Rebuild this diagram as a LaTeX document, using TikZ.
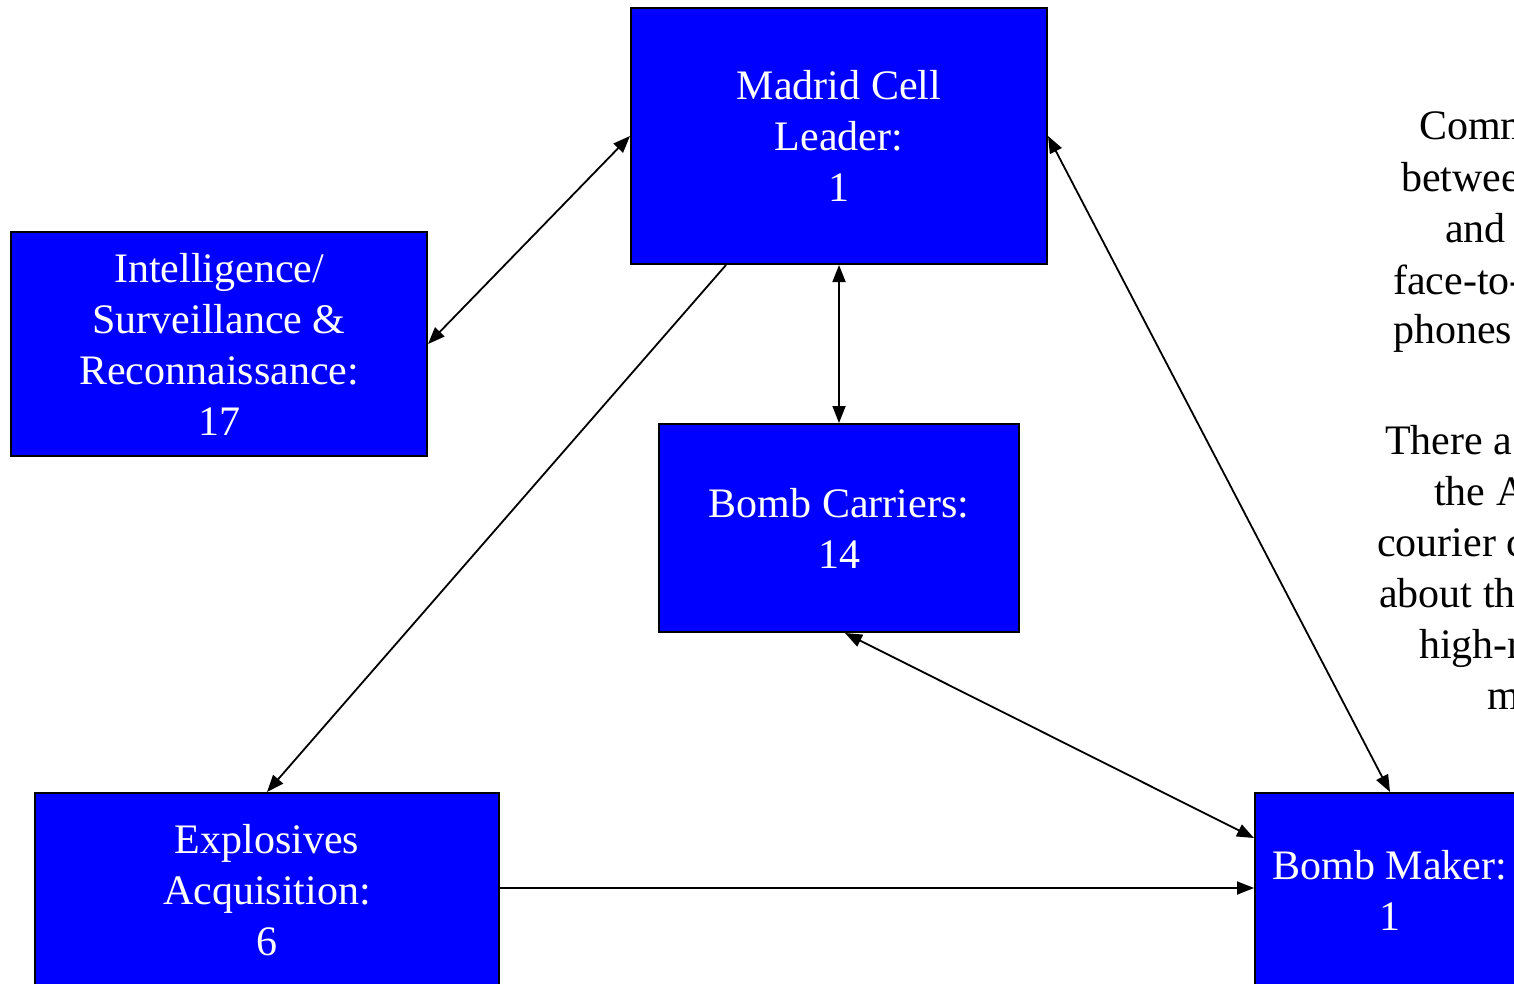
\documentclass[tikz,border=0pt]{standalone}
\usepackage{fontspec}
\setmainfont{Liberation Serif}
\usetikzlibrary{arrows.meta}

\tikzset{
  cellbox/.style={draw=black, line width=2pt, fill={rgb,255:red,0;green,0;blue,255},
    text=white, align=center, inner sep=0pt, font=\fontsize{42}{51}\selectfont},
  link/.style={line width=1.8pt, {Triangle[length=17pt,width=13pt]}-{Triangle[length=17pt,width=13pt]}},
  onelink/.style={line width=1.8pt, -{Triangle[length=17pt,width=13pt]}},
  notetext/.style={anchor=base west, inner sep=0pt, font=\fontsize{42}{51}\selectfont}
}

\begin{document}
\begin{tikzpicture}[x=1pt, y=-1pt]
			%%%%% FRAME %%%%%
			\useasboundingbox (0,0) rectangle (1514,983);
			
			%%%%% BOXES %%%%%
			\node[cellbox, minimum width=416pt, minimum height=256pt] (madrid) at (839,136) {Madrid Cell\\Leader:\\1};
			\node[cellbox, minimum width=416pt, minimum height=224pt] (intel) at (219,344) {Intelligence/\\Surveillance \&\\Reconnaissance:\\17};
			\node[cellbox, minimum width=360pt, minimum height=208pt] (carriers) at (839,528) {Bomb Carriers:\\14};
			\node[cellbox, minimum width=464pt, minimum height=194pt] (explosives) at (267,890) {Explosives\\Acquisition:\\6};
			\node[cellbox, minimum width=270pt, minimum height=194pt] (maker) at (1390,890) {Bomb Maker:\\1};
			
			%%%%% LINKS %%%%%
			\draw[link] (intel.east) -- (madrid.west);
			\draw[link] (madrid.south) -- (carriers.north);
			\draw[link] (madrid.east) -- (maker.north);
			\draw[link] ([xshift=6pt]carriers.south) -- ([yshift=52pt]maker.west);
			\draw[onelink] ([xshift=-113pt]madrid.south) -- (explosives.north);
			\draw[onelink] ([yshift=2pt]explosives.east) -- ([yshift=2pt]maker.west);
			
			%%%%% NOTE (cut off at the edge) %%%%%
			\node[notetext] (n1) at (1419,139) {Comm};
			\node[notetext] (n2) at (1401,191) {betwee};
			\node[notetext] (n3) at (1445,242) {and};
			\node[notetext] (n4) at (1393,294) {face-to-};
			\node[notetext] (n5) at (1393,343) {phones};
			\node[notetext] (n6) at (1385,454) {There a};
			\node[notetext] (n7) at (1434,505) {the A};
			\node[notetext] (n8) at (1377,556) {courier c};
			\node[notetext] (n9) at (1379,607) {about th};
			\node[notetext] (n10) at (1419,658) {high-r};
			\node[notetext] (n11) at (1487,709) {m};
			
			%%%%% END %%%%%
\end{tikzpicture}
\end{document}
